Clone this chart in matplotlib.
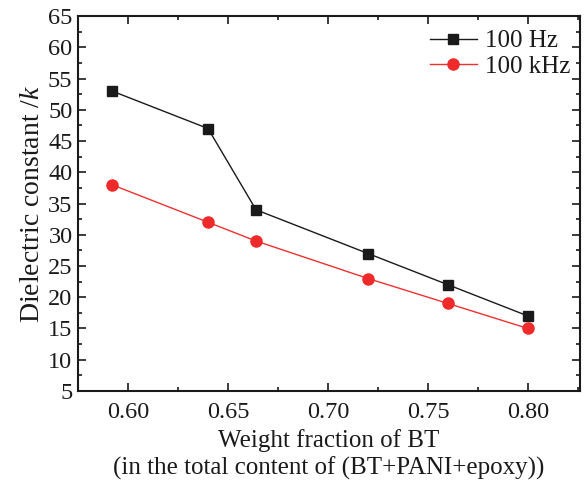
import matplotlib
matplotlib.use("Agg")
import matplotlib.pyplot as plt
from matplotlib.ticker import MultipleLocator, FormatStrFormatter

plt.rcParams['font.family'] = ['Liberation Serif', 'DejaVu Serif']
plt.rcParams['mathtext.fontset'] = 'custom'
plt.rcParams['mathtext.it'] = 'Liberation Serif:italic'
plt.rcParams['mathtext.rm'] = 'Liberation Serif'

x_frac = [0.592, 0.64, 0.664, 0.72, 0.76, 0.80]
k_100hz = [53, 47, 34, 27, 22, 17]
k_100khz = [38, 32, 29, 23, 19, 15]
series_labels = ["100 Hz", "100 kHz"]

fig = plt.figure(figsize=(5.88, 4.86), dpi=100)
ax = fig.add_axes([0.1327, 0.1955, 0.8537, 0.7715])

ax.plot(x_frac, k_100hz, '-s', color='#1a1a1a', lw=1.0, ms=7, mfc='#1a1a1a',
        mec='#1a1a1a', label=series_labels[0])
ax.plot(x_frac, k_100khz, '-o', color='#f03030', lw=1.0, ms=8, mfc='#ee2a2a',
        mec='#ee2a2a', label=series_labels[1])

ax.set_xlim(0.575, 0.826)
ax.set_ylim(5, 65)
ax.xaxis.set_major_locator(MultipleLocator(0.05))
ax.xaxis.set_minor_locator(MultipleLocator(0.025))
ax.yaxis.set_major_locator(MultipleLocator(5))
ax.yaxis.set_minor_locator(MultipleLocator(2.5))
ax.xaxis.set_major_formatter(FormatStrFormatter('%.2f'))

ax.tick_params(which='both', direction='in', top=True, right=True, labelsize=17.5,
               width=1.2, colors='#1a1a1a', labelcolor='#1a1a1a')
ax.tick_params(which='major', length=6)
ax.tick_params(axis='x', which='major', pad=8)
ax.tick_params(axis='y', which='major', pad=4)
ax.tick_params(which='minor', length=3)
for s in ax.spines.values():
    s.set_linewidth(1.5)
    s.set_color('#1a1a1a')

ax.set_xlabel("Weight fraction of BT\n(in the total content of (BT+PANI+epoxy))",
              fontsize=18, color='#1a1a1a', linespacing=1.3, labelpad=4)
ax.set_ylabel("Dielectric constant /$k$", fontsize=20, color='#1a1a1a', labelpad=2)

leg = ax.legend(loc='upper right', frameon=False, fontsize=18, handlelength=1.9,
                handletextpad=0.3, borderaxespad=0.0, labelspacing=0.12,
                bbox_to_anchor=(1.0, 0.99))
for t in leg.get_texts():
    t.set_color('#1a1a1a')

fig.savefig("out.png", dpi=100)
